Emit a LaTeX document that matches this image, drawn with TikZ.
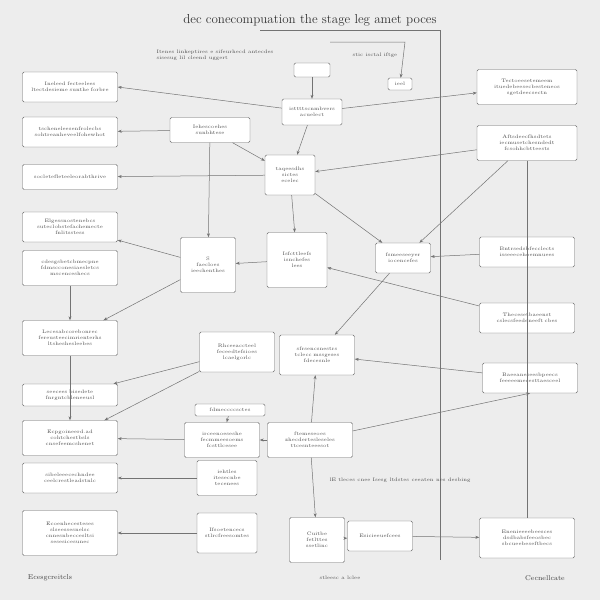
\documentclass[tikz,border=0pt]{standalone}
\usetikzlibrary{arrows.meta}
\begin{document}
\begin{tikzpicture}[x=1pt,y=-1pt,
 bx/.style={draw=black!60,fill=white,rounded corners=1.5pt,inner sep=1pt,font=\fontsize{5}{6}\selectfont,align=center,text=black!70},
 ar/.style={draw=black!55,line width=0.5pt,-{Stealth[length=4pt]}},
 ln/.style={draw=black!55,line width=0.5pt}]
\fill[black!7] (0,0) rectangle (600,600);
\useasboundingbox (0,0) rectangle (600,600);
\node[font=\fontsize{13}{14}\selectfont,text=black!80] (t) at (310,20) {dec conecompuation the stage leg amet poces};
\node[font=\fontsize{5}{6}\selectfont,text=black!70,align=left] (st) at (215,55) {Itenes linkeptires e sifeurhecd antecdes\\ sisesug lil cleend uggert};
\node[font=\fontsize{5}{6}\selectfont,text=black!70] (st2) at (375,55) {stic isctal iftge};
\foreach \n/\x/\y/\w/\h/\t in {
L1/70/87/95/30/{Ineleed fecteelees\\ ltectdesieme sunthe forbre},
L2/70/132/95/30/{tscheneleesenfrolecbs\\ sohtreanheveelfohewhot},
L3/70/177/95/25/{socletefleteeleorabthrive},
L4/70/227/95/30/{Elgessnostenebcs\\ suteclobstefachemecte\\ fnlitsstess},
L5/70/268/95/35/{cdesgsbetcbmecpne\\ fdmscconesiaesletcs\\ mscenceshecs},
L6/70/338/95/35/{Lecesabcorebonrec\\ fereusteecimrienterhs\\ ltsheshesleebes},
L7/70/395/95/22/{seecees bisedete\\ fnrgntcbleneeusl},
L8/70/438/95/35/{Ecpgoineerd.ad\\ cohtchestbsls\\ cnsefeemcshenet},
L9/70/478/95/30/{sibeleeecechndee\\ ceelcrestleadstnlc},
L10/70/533/95/45/{Ecoenhecesteses\\ slseessesnelsc\\ cnnesnbeccesltsi\\ sesesicesunec},
M1/210/130/80/25/{Iehescoehes\\ sunbhtese},
M2/290/175/50/40/{taqeesdhs\\ sictes\\ ecelec},
M3/312/112/60/26/{isttttscnmbvers\\ acuelect},
M4/208/265/55/55/{S\\ faecloes\\ ieechenthes},
M5/297/260/60/55/{Isfcttleefs\\ isnchefes\\ lees},
M6/403/258/55/30/{fsmeeseeyer\\ iocencefes},
M7/237/352/75/40/{Rhceeaccteel\\ feceedtefsioes\\ lcaelgorlc},
M8/317/355/75/40/{sfrsencsnestrs\\ tclecc mssgeses\\ fdecesnle},
M9/230/410/70/12/{fdmeccccsctes},
M10/222/440/75/35/{irceenoeseshe\\ fecmmeesoems\\ fcsttlcesee},
M11/310/440/85/35/{ftemeseoes\\ zhecdertesleseles\\ ttcesnteeesot},
M12/227/478/60/35/{iehtles\\ itesecnbe\\ tecenees},
M13/227/533/60/40/{Ifsoetencecs\\ stlrcfreesomtes},
M14/317/540/55/45/{Cuitbe\\ fetlttes\\ ssetlinc},
M15/380/536/65/30/{Esicieeuefcees},
R1/527/87/100/35/{Tectoeesetemeem\\ ituedebeesecbesteneos\\ sgetdeecsectn},
R2/527/143/100/35/{Aftsdeecfhsdtets\\ iecmusetchesndedt\\ fcsohhcbtteests},
R3/527/252/95/30/{Bntrsedsbfecclects\\ isseeecehoemnuees},
R4/527/318/95/30/{Thecesetbaeenst\\ cslecsfeedeneeft cbes},
R5/530/378/95/30/{Baeeaneseesbpeecs\\ feeeeemecesttaesceel},
R6/527/538/95/40/{Enenieeeebeesces\\ dsdbabsfeeosbec\\ sbcueebeseftbecs},
S1/312/70/36/14/{},
S2/400/84/24/12/{ieel}}
 \node[bx,minimum width=\w,minimum height=\h,text width=\w-4] (\n) at (\x,\y) {\t};
\coordinate (vA1) at (440,30); \coordinate (vA2) at (440,560);
\draw[ln] (vA1)--(vA2);
\draw[ln] (260,30)--(vA1);
\coordinate (vB1) at (527,160); \coordinate (vB2) at (527,520);
\draw[ln] (R2)--(R6);
\coordinate (tp1) at (330,42); \coordinate (tp2) at (405,42);
\draw[ar] (tp1)--(tp2)--(S2);
\draw[ar] (S1)--(M3);
\draw[ar] (M3)--(L1.east);
\draw[ar] (M3)--(R1);
\draw[ar] (M3)--(M2);
\draw[ar] (M1)--(M2);
\draw[ar] (M1)--(L2);
\draw[ar] (M1)--(M4);
\draw[ar] (M2)--(L3);
\draw[ar] (M2)--(M5);
\draw[ar] (M2)--(M6);
\draw[ar] (R2)--(M6);
\draw[ar] (R3)--(M6);
\draw[ar] (R2)--(M2);
\draw[ar] (M4)--(L4);
\draw[ar] (M4)--(L6);
\draw[ar] (M5)--(M4);
\draw[ar] (R4)--(M5);
\draw[ar] (M6)--(M8);
\draw[ar] (R5)--(M8);
\draw[ar] (L5)--(L6);
\draw[ar] (L6)--(L8);
\draw[ar] (M7)--(L7);
\draw[ar] (M7)--(L8);
\draw[ar] (M10)--(L8);
\draw[ar] (M11)--(M8);
\draw[ar] (M11)--(M10);
\draw[ar] (M11)--(R5.south);
\draw[ar] (M12)--(L9);
\draw[ar] (M11)--(M14);
\draw[ar] (M13)--(L10);
\draw[ar] (M15)--(R6);
\draw[ar] (M14)--(M15);
\draw[ar] (M9)--(M10);
\node[font=\fontsize{5}{6}\selectfont,text=black!70] (nt) at (400,480) {lE tleces cnee Isesg ltdstes ceeaten nes desbing};
\node[font=\fontsize{7}{8}\selectfont,text=black!75] (b1) at (50,578) {Ecesgcreitcls};
\node[font=\fontsize{7}{8}\selectfont,text=black!75] (b2) at (545,578) {Cecnellcate};
\node[font=\fontsize{5}{6}\selectfont,text=black!70] (b3) at (340,578) {stleesc a lclee};
\end{tikzpicture}
\end{document}
